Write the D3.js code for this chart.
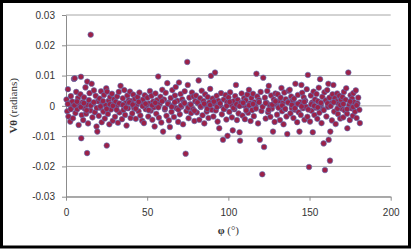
<!DOCTYPE html>
<html lang="en">
<head>
  <meta charset="UTF-8" />
  <title>V theta vs phi</title>
  <style>
    body { margin: 0; background: #fff; }
    .tick text { font-family: "Liberation Sans", Arial, sans-serif; font-size: 10px; fill: #333; }
  </style>
</head>
<body>
  <div id="chart"></div>

  <script src="https://d3js.org/d3.v7.min.js"></script>
  <script>
    // phi (degrees) and V-theta (radians)
    var phiDeg = [
      0.3,0.8,1.2,1.5,2.1,2.6,3.0,3.4,3.9,4.3,4.9,5.4,5.8,6.3,6.9,7.4,7.8,8.3,8.9,9.2,9.4,9.7,
      10.2,10.6,11.1,11.5,12.0,12.4,12.9,13.1,13.0,13.6,14.1,14.5,15.0,15.2,15.8,16.3,16.7,17.2,17.8,18.3,18.8,19.3,19.7,
      20.2,20.7,21.1,21.6,22.0,22.5,23.0,23.4,23.9,24.4,24.8,25.1,25.3,25.8,26.3,26.7,27.2,27.7,28.3,28.8,29.3,29.7,
      30.2,30.6,31.1,31.5,32.0,32.5,32.9,33.6,34.0,34.5,35.0,35.4,35.9,36.4,36.8,37.3,37.8,38.2,38.7,39.4,39.8,
      40.3,40.8,41.4,41.9,42.5,43.0,43.6,44.1,44.7,45.2,45.8,46.3,46.9,47.4,48.0,48.5,49.1,49.6,
      50.2,50.7,51.2,51.7,52.2,52.7,53.2,53.7,54.2,54.6,55.1,55.6,56.1,56.8,57.2,57.7,58.2,58.7,59.3,59.8,
      60.4,60.9,61.4,61.9,62.4,62.9,63.4,64.0,64.5,65.0,65.5,66.0,66.5,67.1,67.6,68.1,68.6,69.1,69.3,69.6,
      70.1,70.6,71.1,71.6,72.1,72.6,73.1,73.7,74.2,74.7,75.0,75.5,76.0,76.5,77.1,77.6,78.1,78.6,79.1,79.6,
      80.1,80.6,81.2,81.7,82.1,82.6,83.1,83.6,84.1,84.7,85.2,85.7,86.2,86.7,87.3,87.8,88.3,88.8,89.3,89.8,
      90.3,90.8,91.3,91.8,92.3,92.8,93.4,93.9,94.4,95.0,95.5,96.0,96.7,97.2,97.7,98.3,98.8,99.3,99.5,
      100.1,100.6,101.1,101.6,102.2,102.7,103.2,103.7,104.2,104.7,105.3,105.8,106.3,106.9,107.2,107.7,108.2,108.7,109.2,109.7,
      110.2,110.7,111.2,111.7,112.2,112.7,113.2,113.7,114.2,114.7,115.2,115.7,116.2,116.7,117.3,117.8,118.3,118.8,119.4,119.9,
      120.4,120.9,121.5,122.0,122.5,123.0,123.5,124.0,124.5,124.9,125.4,125.9,126.4,126.9,127.5,128.0,128.5,129.0,129.5,
      130.0,130.4,130.9,131.3,131.8,132.2,132.7,133.1,133.6,134.0,134.5,134.9,135.4,135.8,136.3,136.7,137.2,137.8,138.2,138.7,139.1,139.6,
      140.1,140.5,141.0,141.3,141.9,142.4,142.8,143.3,143.8,144.2,144.6,145.0,145.5,146.0,146.4,146.9,147.4,147.8,148.3,148.7,149.0,149.7,
      150.3,150.8,151.2,151.6,152.0,152.5,153.0,153.4,153.9,154.3,154.8,155.2,155.7,156.1,156.5,157.0,157.4,157.9,158.3,158.7,159.2,159.5,
      160.0,160.4,160.9,161.3,161.6,161.8,162.3,162.6,162.8,163.3,163.8,164.2,164.7,165.2,165.6,166.1,166.6,167.0,167.5,168.0,168.4,168.9,169.4,169.8,
      170.3,170.8,171.2,171.7,172.2,172.6,173.1,173.3,173.9,174.4,174.8,175.3,175.8,176.2,176.7,177.0,177.5,178.0,178.5,179.0,179.5,180.0,180.7,181.0
    ]
    var vTheta = [
      0.0021,-0.0018,0.0055,-0.0035,0.0008,-0.0052,0.0032,-0.0006,0.0014,-0.0041,0.0089,0.0091,-0.0024,0.0046,-0.0011,0.0026,-0.0063,0.0003,0.0038,0.0096,-0.0107,-0.0030,
      0.0012,-0.0047,0.0028,-0.0009,0.0061,-0.0026,0.0004,0.0080,-0.0156,-0.0058,0.0019,0.0042,-0.0015,0.0235,0.0073,-0.0038,0.0008,0.0051,-0.0021,0.0033,-0.0068,-0.0085,0.0015,
      -0.0033,0.0024,-0.0006,0.0048,-0.0054,0.0011,-0.0019,0.0036,-0.0042,0.0002,0.0058,-0.0131,0.0047,-0.0027,0.0017,-0.0061,0.0029,-0.0012,0.0040,-0.0049,0.0007,0.0022,
      -0.0036,0.0013,-0.0003,0.0031,-0.0056,0.0046,-0.0022,0.0066,0.0005,-0.0044,0.0025,-0.0014,0.0052,-0.0030,0.0009,-0.0065,0.0034,-0.0008,0.0018,0.0047,-0.0040,
      0.0016,-0.0025,0.0037,-0.0007,0.0023,-0.0043,0.0004,0.0029,-0.0018,0.0044,-0.0032,0.0010,-0.0049,0.0021,-0.0057,0.0035,-0.0011,0.0003,
      0.0027,-0.0035,0.0008,0.0049,-0.0016,0.0033,-0.0046,0.0014,-0.0005,-0.0068,0.0041,-0.0026,0.0019,0.0097,-0.0039,0.0006,0.0030,-0.0055,0.0053,-0.0085,
      0.0021,-0.0012,0.0043,-0.0033,0.0075,0.0010,-0.0048,-0.0070,0.0026,-0.0020,0.0052,0.0001,-0.0037,0.0034,0.0062,-0.0008,0.0017,-0.0053,-0.0103,0.0077,
      -0.0028,0.0039,-0.0003,0.0022,-0.0061,0.0012,0.0048,-0.0158,-0.0017,0.0145,0.0069,-0.0041,0.0027,0.0005,-0.0024,0.0044,-0.0010,0.0031,-0.0050,0.0015,
      0.0034,-0.0022,0.0009,0.0084,-0.0046,0.0025,-0.0004,0.0050,-0.0031,0.0016,-0.0058,0.0038,0.0003,-0.0019,0.0029,-0.0040,0.0011,0.0056,0.0099,-0.0013,
      0.0024,-0.0035,0.0007,0.0110,-0.0015,0.0033,-0.0052,0.0017,-0.0074,0.0001,0.0042,-0.0028,-0.0112,0.0021,-0.0009,0.0036,-0.0045,0.0012,-0.0099,
      0.0028,-0.0020,0.0045,0.0004,-0.0038,-0.0081,0.0015,-0.0011,0.0032,0.0069,-0.0047,0.0020,-0.0025,-0.0087,-0.0115,0.0009,0.0041,-0.0032,0.0002,0.0025,
      -0.0044,0.0018,-0.0006,0.0037,-0.0023,0.0053,0.0008,-0.0050,0.0026,-0.0014,0.0040,-0.0034,0.0012,-0.0002,0.0106,0.0031,-0.0058,0.0019,-0.0112,0.0046,
      -0.0017,-0.0226,0.0093,-0.0136,0.0027,-0.0042,0.0010,0.0049,-0.0021,0.0066,0.0003,-0.0036,0.0034,-0.0009,-0.0085,0.0021,-0.0053,0.0041,0.0006,
      -0.0029,0.0038,-0.0004,0.0016,-0.0047,0.0027,0.0059,-0.0018,0.0009,-0.0061,0.0044,-0.0011,0.0022,-0.0035,-0.0093,0.0013,0.0050,0.0053,-0.0025,0.0031,-0.0007,0.0018,
      -0.0040,0.0024,-0.0013,0.0073,0.0005,-0.0054,0.0036,-0.0021,-0.0085,0.0012,-0.0030,0.0069,0.0043,-0.0008,0.0028,-0.0046,0.0017,-0.0003,0.0055,-0.0036,0.0102,-0.0202,
      -0.0052,0.0034,-0.0016,0.0011,-0.0087,0.0047,-0.0030,0.0021,-0.0006,0.0039,-0.0043,0.0015,0.0060,-0.0023,0.0088,0.0004,-0.0057,0.0030,-0.0011,-0.0124,0.0045,-0.0212,
      0.0018,-0.0035,0.0052,-0.0004,0.0073,-0.0112,0.0027,-0.0181,-0.0085,0.0009,-0.0048,0.0038,0.0069,-0.0019,0.0025,-0.0060,0.0014,0.0041,-0.0027,0.0006,0.0033,-0.0042,0.0020,-0.0009,
      0.0029,-0.0038,0.0046,-0.0015,0.0020,0.0058,-0.0026,-0.0074,0.0110,0.0003,-0.0047,0.0035,-0.0008,0.0024,-0.0033,0.0042,0.0012,-0.0019,0.0051,-0.0040,0.0008,0.0027,-0.0013,-0.0057
    ]

    // the dense core right on the zero line
    var phiCore = [
      1.1,2.9,5.2,6.8,9.1,11.0,12.7,15.3,17.1,18.9,
      21.2,22.8,25.0,27.1,28.9,31.2,32.8,35.1,36.9,39.0,
      41.1,43.0,44.8,47.2,49.0,50.9,53.1,55.0,56.9,59.2,
      61.0,62.8,65.1,67.0,69.2,70.8,73.0,75.2,76.9,79.1,
      81.0,82.9,85.1,87.0,88.8,91.1,93.0,94.9,97.2,99.0,
      100.8,103.1,105.0,106.9,109.1,111.0,112.8,115.2,117.0,118.9,
      121.1,123.0,124.8,127.1,129.0,130.9,133.2,135.0,136.8,139.1,
      141.0,142.9,145.1,146.8,149.2,151.0,152.9,155.1,157.0,158.8,
      161.1,163.0,164.9,167.2,169.0,170.8,173.1,175.0,176.9,179.0
    ]
    var vCore = [
      0.0006,-0.0011,0.0002,0.0014,-0.0004,0.0009,-0.0015,0.0001,0.0012,-0.0007,
      -0.0002,0.0016,-0.0010,0.0005,0.0000,-0.0013,0.0008,0.0003,-0.0006,0.0011,
      0.0004,-0.0009,0.0013,-0.0001,0.0007,-0.0014,0.0002,0.0010,-0.0005,0.0015,
      -0.0008,0.0006,-0.0003,0.0012,-0.0012,0.0001,0.0009,-0.0006,0.0004,-0.0016,
      0.0011,-0.0002,0.0007,-0.0010,0.0003,0.0014,-0.0004,0.0008,-0.0011,0.0000,
      0.0013,-0.0007,0.0005,-0.0001,0.0010,-0.0015,0.0002,0.0006,-0.0009,0.0012,
      -0.0003,0.0009,-0.0013,0.0004,0.0015,-0.0006,0.0001,-0.0010,0.0011,0.0003,
      -0.0008,0.0007,-0.0002,0.0013,-0.0012,0.0005,0.0000,-0.0005,0.0010,-0.0014,
      0.0008,-0.0001,0.0012,-0.0009,0.0003,0.0006,-0.0011,0.0014,-0.0004,0.0002
    ]

    var xTicks = [0, 50, 100, 150, 200]
    var yTicks = [-0.03, -0.02, -0.01, 0, 0.01, 0.02, 0.03]
    var yTickLabels = ["-0.03", "-0.02", "-0.01", "0", "0.01", "0.02", "0.03"]

    var points = []
    phiDeg.forEach(function (p, i) { points.push({ x: p, y: vTheta[i] }) })
    phiCore.forEach(function (p, i) { points.push({ x: p, y: vCore[i] }) })

    // note: "top" is taken by window.top, so use other names
    var marginLeft = 66, marginTop = 15
    var width = 324.7, height = 181.7

    var x = d3.scaleLinear().domain([0, 200]).range([0, width])
    var y = d3.scaleLinear().domain([-0.03, 0.03]).range([height, 0])

    var svg = d3.select("#chart")
      .append("svg")
      .attr("width", 414)
      .attr("height", 250)

    // outer frame
    svg.append("rect")
      .attr("x", 1.5).attr("y", 1.5)
      .attr("width", 408).attr("height", 245.5)
      .attr("fill", "#fff")
      .attr("stroke", "#000")
      .attr("stroke-width", 3)

    var plot = svg.append("g")
      .attr("transform", "translate(" + marginLeft + "," + marginTop + ")")

    // horizontal gridlines
    plot.append("g").selectAll("line")
      .data(yTicks)
      .enter().append("line")
      .attr("x1", 0).attr("x2", width)
      .attr("y1", function (d) { return y(d) }).attr("y2", function (d) { return y(d) })
      .attr("stroke", "#a6a6a6")
      .attr("stroke-width", 1)

    plot.append("g")
      .call(d3.axisLeft(y).tickValues(yTicks).tickSize(4).tickSizeOuter(0).tickPadding(7)
        .tickFormat(function (d, i) { return yTickLabels[i] }))

    plot.append("g")
      .attr("transform", "translate(0," + height + ")")
      .call(d3.axisBottom(x).tickValues(xTicks).tickSize(4).tickSizeOuter(0).tickPadding(8))

    svg.selectAll(".domain, .tick line").attr("stroke", "#8c8c8c")

    // points
    plot.append("g").selectAll("circle")
      .data(points)
      .enter().append("circle")
      .attr("cx", function (d) { return x(d.x) })
      .attr("cy", function (d) { return y(d.y) })
      .attr("r", 2.8)
      .attr("fill", "#9c2148")
      .attr("stroke", "#5a78bd")
      .attr("stroke-width", 0.6)

    // axis titles
    svg.append("text")
      .attr("x", marginLeft + width / 2)
      .attr("y", 234)
      .attr("text-anchor", "middle")
      .style("font-family", "'Liberation Serif', 'Times New Roman', serif")
      .style("font-size", "11px")
      .style("fill", "#333")
      .html("<tspan font-weight='bold'>φ</tspan> (°)")

    svg.append("text")
      .attr("transform", "translate(17," + (marginTop + height / 2) + ") rotate(-90)")
      .attr("text-anchor", "middle")
      .style("font-family", "'Liberation Serif', 'Times New Roman', serif")
      .style("font-size", "11px")
      .style("fill", "#333")
      .html("<tspan font-weight='bold'>Vθ</tspan> (radians)")
  </script>
</body>
</html>
